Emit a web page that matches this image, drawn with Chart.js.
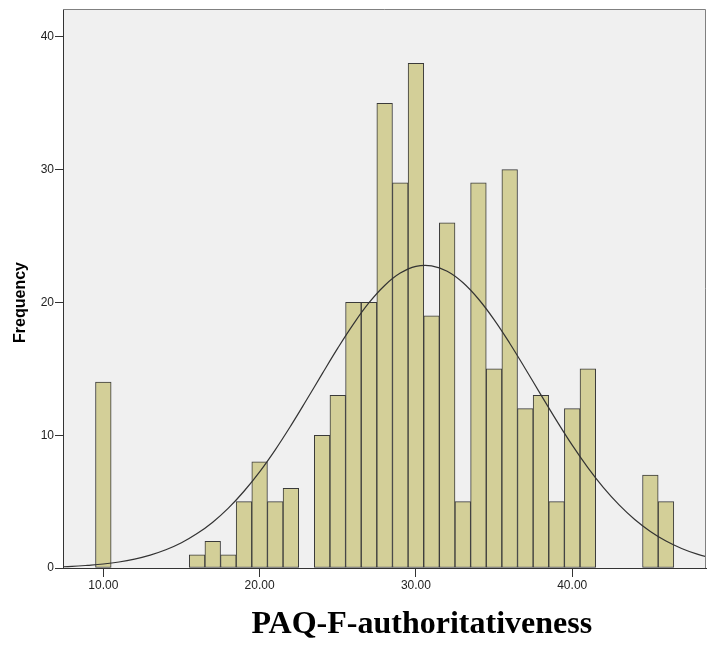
<!DOCTYPE html>
<html>
<head>
<meta charset="utf-8">
<title>PAQ-F-authoritativeness</title>
<script src="https://cdn.jsdelivr.net/npm/chart.js@4/dist/chart.umd.min.js"></script>
<style>
  body { margin: 0; background: #fff; }
  canvas { display: block; }
</style>
</head>
<body>
<canvas id="histChart" width="710" height="646"></canvas>
<script>
// ====== Histogram data (bin centre -> count) ======
const binCenters = [10, 16, 17, 18, 19, 20, 21, 22, 24, 25, 26, 27, 28, 29, 30, 31, 32, 33, 34, 35, 36, 37, 38, 39, 40, 41, 45, 46];
const binCounts  = [14, 1, 2, 1, 5, 8, 5, 6, 10, 13, 20, 20, 35, 29, 38, 19, 26, 5, 29, 15, 30, 12, 13, 5, 12, 15, 7, 5];

// ====== Normal curve overlay ======
const curveX = [7, 8, 9, 10, 11, 12, 13, 14, 15, 16, 17, 18, 19, 20, 21, 22, 23, 24, 25, 26, 27, 28,
                29, 30, 31, 32, 33, 34, 35, 36, 37, 38, 39, 40, 41, 42, 43, 44, 45, 46, 47, 48, 49];
const curveY = [0.08, 0.12, 0.2, 0.3, 0.45, 0.67, 0.97, 1.37, 1.9, 2.59, 3.45, 4.51, 5.78, 7.24, 8.9, 10.72, 12.65, 14.62, 16.56, 18.37, 19.98, 21.28,
                22.21, 22.72, 22.76, 22.35, 21.5, 20.26, 18.71, 16.93, 15.01, 13.04, 11.1, 9.25, 7.56, 6.05, 4.75, 3.65, 2.75, 2.03, 1.47, 1.04, 0.72];

// ====== Axis ticks & labels ======
const xTickValues = [10, 20, 30, 40];
const yTickValues = [0, 10, 20, 30, 40];
const xTitle = "PAQ-F-authoritativeness";
const yTitle = "Frequency";

const tickFont = { family: "'Liberation Sans', Arial, sans-serif", size: 12 };

// ====== Plot background, frame and axis titles ======
const framePlugin = {
  id: "frame",
  beforeDraw(chart) {
    const { ctx, chartArea: a } = chart;
    ctx.save();
    ctx.fillStyle = "#f0f0f0";
    ctx.fillRect(a.left, a.top, a.right - a.left, a.bottom - a.top);
    ctx.restore();
  },
  afterDraw(chart) {
    const { ctx, chartArea: a } = chart;
    ctx.save();
    ctx.strokeStyle = "#808080";
    ctx.lineWidth = 1;
    ctx.beginPath();
    ctx.moveTo(a.left, a.top + 0.5);
    ctx.lineTo(a.right - 0.5, a.top + 0.5);
    ctx.lineTo(a.right - 0.5, a.bottom);
    ctx.stroke();

    // x title (serif, bold)
    ctx.fillStyle = "#000";
    ctx.font = "bold 32px 'Liberation Serif', 'Times New Roman', serif";
    ctx.textAlign = "center";
    ctx.textBaseline = "alphabetic";
    ctx.fillText(xTitle, a.left + (a.right - a.left) * 0.558, a.bottom + 65);

    // y title (rotated)
    ctx.translate(21, a.top + (a.bottom - a.top) * 0.525);
    ctx.rotate(-Math.PI / 2);
    ctx.font = "bold 16px 'Liberation Sans', Arial, sans-serif";
    ctx.textBaseline = "middle";
    ctx.fillText(yTitle, 0, 0);
    ctx.restore();
  }
};

const ctx = document.getElementById("histChart").getContext("2d");

new Chart(ctx, {
  type: "bar",
  data: {
    datasets: [
      {
        type: "line",
        data: curveX.map((x, i) => ({ x: x, y: curveY[i] })),
        borderColor: "#333",
        borderWidth: 1.2,
        pointRadius: 0,
        tension: 0.4,
        fill: false,
        clip: 0,
        order: 0
      },
      {
        type: "bar",
        data: binCenters.map((x, i) => ({ x: x, y: binCounts[i] })),
        backgroundColor: "#d3cf98",
        borderColor: "#3a3a3a",
        borderWidth: 1,
        borderSkipped: false,
        barPercentage: 1,
        categoryPercentage: 1,
        order: 1
      }
    ]
  },
  options: {
    responsive: false,
    animation: false,
    layout: { padding: { top: 9, right: 4, left: 0, bottom: 0 } },
    plugins: {
      legend: { display: false },
      tooltip: { enabled: false }
    },
    scales: {
      x: {
        type: "linear",
        min: 7.42,
        max: 48.56,
        offset: false,
        afterBuildTicks: s => { s.ticks = xTickValues.map(v => ({ value: v })); },
        afterFit: s => { s.height = 78; },
        ticks: {
          callback: v => Number(v).toFixed(2),
          font: tickFont,
          color: "#222",
          padding: 1,
          maxRotation: 0
        },
        grid: { offset: false, drawOnChartArea: false, drawTicks: true, tickLength: 9, tickColor: "#333" },
        border: { color: "#333" }
      },
      y: {
        min: 0,
        max: 42.1,
        afterBuildTicks: s => { s.ticks = yTickValues.map(v => ({ value: v })); },
        afterFit: s => { s.width = 63; },
        ticks: {
          font: tickFont,
          color: "#222",
          padding: 1
        },
        grid: { drawOnChartArea: false, drawTicks: true, tickLength: 8, tickColor: "#333" },
        border: { color: "#333" }
      }
    }
  },
  plugins: [framePlugin]
});
</script>
</body>
</html>
